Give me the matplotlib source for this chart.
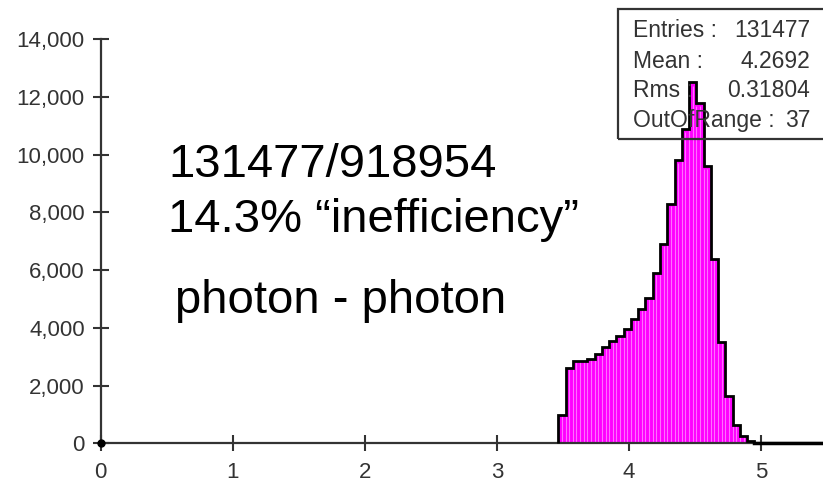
import numpy as np
import matplotlib.pyplot as plt
from matplotlib.patches import Rectangle
from matplotlib.ticker import FuncFormatter

plt.rcParams['font.family'] = ['Liberation Sans', 'DejaVu Sans']

# histogram: bins of 0.055 from 0 to 5.5, non-empty part starts at 3.465
bin_width = 0.055
first_bin = 63
counts_nonzero = [1000, 2600, 2850, 2870, 2930, 3100, 3350, 3550, 3720, 3950,
                  4300, 4650, 5050, 5900, 6900, 8300, 9800, 10900, 12500, 11800,
                  9600, 6400, 3500, 1650, 650, 250, 90, 30, 10, 5]
n_bins = 100

stats_labels = ["Entries :", "Mean :", "Rms :", "OutOfRange :"]
stats_values = ["131477", "4.2692", "0.31804", "37"]

x_ticks = [0, 1, 2, 3, 4, 5]
y_ticks = [0, 2000, 4000, 6000, 8000, 10000, 12000, 14000]

counts = np.zeros(n_bins)
counts[first_bin:first_bin + len(counts_nonzero)] = counts_nonzero
edges = np.arange(n_bins + 1) * bin_width
last = first_bin + len(counts_nonzero)

axis_col = '#333333'

fig = plt.figure(figsize=(8.23, 4.84), dpi=100)
ax = fig.add_axes([0.1224, 0.0837, 0.8777, 0.8357])

# filled histogram with faint lighter stripes and black outline
ax.stairs(counts, edges, fill=True, color='#ff00ff', zorder=2)
mids = edges[:-1] + bin_width / 2
for xs in (edges[first_bin + 1:last], mids[first_bin:last]):
    idx = np.clip(np.searchsorted(edges, xs, side='right') - 1, 0, n_bins - 1)
    ax.vlines(xs, 0, counts[idx] * 0.99, color='#ff70ff', lw=0.8, zorder=2.5)
# outline only over the filled part, then a heavy baseline to the right
ax.stairs(counts[first_bin:], edges[first_bin:], color='black', lw=2, zorder=3,
          baseline=0, clip_on=False)
ax.plot(edges[[last - 3, -1]], [0, 0], color='black', lw=2.5, zorder=3, clip_on=False)

ax.set_xlim(0, 5.47)
ax.set_ylim(0, 14000)
ax.set_xticks(x_ticks)
ax.set_yticks(y_ticks)
ax.yaxis.set_major_formatter(FuncFormatter(lambda v, p: f"{int(v):,}"))

for s in ['top', 'right']:
    ax.spines[s].set_visible(False)
for s in ['left', 'bottom']:
    ax.spines[s].set_color(axis_col)
    ax.spines[s].set_linewidth(1.6)
ax.tick_params(direction='inout', length=11, width=1.5, color=axis_col,
               labelcolor=axis_col, labelsize=16)
ax.tick_params(axis='y', pad=6)
ax.tick_params(axis='x', pad=8)
ax.plot([0], [0], 'o', color='black', ms=5, clip_on=False, zorder=5)

# annotations
fig.text(0.2041, 0.635, "131477/918954", fontsize=34, va='baseline', color='black')
fig.text(0.2041, 0.521, "14.3% \u201cinefficiency\u201d", fontsize=34, va='baseline', color='black')
fig.text(0.2126, 0.354, "photon - photon", fontsize=34, va='baseline', color='black')

# stats box
fig.patches.append(Rectangle((0.7513, 0.712), 0.3, 0.2694, transform=fig.transFigure,
                             fill=False, edgecolor=axis_col, lw=1.6, zorder=10))
base_y = [0.9242, 0.8605, 0.7986, 0.7366]
for lab, val, yy in zip(stats_labels, stats_values, base_y):
    fig.text(0.7695, yy, lab, fontsize=16.5, va='baseline', ha='left', color=axis_col, zorder=11)
    fig.text(0.9842, yy, val, fontsize=16.5, va='baseline', ha='right', color=axis_col, zorder=11)

fig.savefig('out.png', dpi=100)
